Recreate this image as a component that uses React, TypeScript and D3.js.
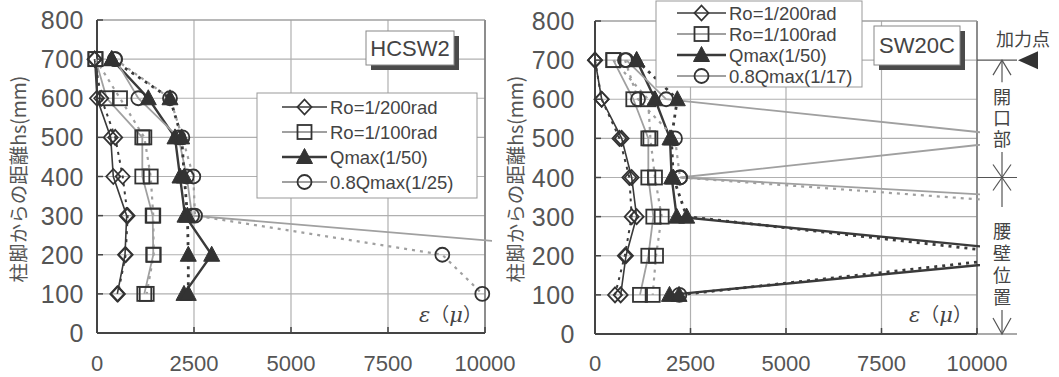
import React from "react";
import * as d3 from "d3";

// ---------- data ----------
const heights = [700, 600, 500, 400, 300, 200, 100];
const yTicks = [0, 100, 200, 300, 400, 500, 600, 700, 800];
const xTicks = [0, 2500, 5000, 7500, 10000];

// HCSW2 (left panel) strain values (μ) at each height
const hcRo200Solid = [-60, 0, 353, 420, 765, 722, 523];
const hcRo200Dash = [-60, 110, 470, 662, 790, 740, 540];
const hcRo100Solid = [-40, 250, 1168, 1168, 1435, 1451, 1219];
const hcRo100Dash = [-40, 593, 1220, 1384, 1450, 1460, 1281];
const hcQmaxSolid = [379, 1322, 2010, 2139, 2268, 2956, 2242];
const hcQmaxDash = [379, 1881, 2182, 2250, 2330, 2353, 2353];
const hcQ08Solid = [464, 1064, 2100, 2312, 2450, 14400, 16000];
const hcQ08Dash = [464, 1881, 2200, 2482, 2526, 8900, 9930];

// SW20C (right panel)
const swRo200Solid = [0, 175, 698, 960, 1090, 812, 672];
const swRo200Dash = [0, 175, 640, 900, 960, 780, 524];
const swRo100Solid = [480, 1003, 1396, 1396, 1527, 1396, 1178];
const swRo100Dash = [480, 1390, 1450, 1570, 1745, 1597, 1510];
const swQmaxSolid = [1090, 1570, 1963, 2007, 2138, 12585, 1950];
const swQmaxDash = [1090, 2155, 2000, 2050, 2400, 11500, 2200];
const swQ08Solid = [820, 1860, 11600, 2225, 20400, null, null];
const swQ08Dash = [785, 1126, 2094, 2225, 16200, null, 2208];

const leftNames = ["Ro=1/200rad", "Ro=1/100rad", "Qmax(1/50)", "0.8Qmax(1/25)"];
const rightNames = ["Ro=1/200rad", "Ro=1/100rad", "Qmax(1/50)", "0.8Qmax(1/17)"];

const yLabel = "柱脚からの距離hs(mm)";
const loadLabel = "加力点";
const openingLabel = "開口部";
const spandrelLabel = "腰壁位置";

// ---------- styles ----------
const DARK = "#3a3a3a";
const GRAY = "#a0a0a0";
const TXT = "#555";
const seriesStyles = [
  { marker: "diamond", color: DARK, width: 1.6 },
  { marker: "square", color: GRAY, width: 1.8 },
  { marker: "triangle", color: DARK, width: 2.4 },
  { marker: "circle", color: GRAY, width: 1.8 },
];
const DASH = "3 5";
const NUM_FONT = "'Liberation Sans', Arial, sans-serif";
const CJK_FONT = "'Noto Sans CJK JP', sans-serif";

function Marker({ kind, x, y }: { kind: string; x: number; y: number }) {
  const st = { stroke: "#333", strokeWidth: 1.8, fill: "none" };
  if (kind === "diamond")
    return <path d={`M${x},${y - 7.5}L${x + 7},${y}L${x},${y + 7.5}L${x - 7},${y}Z`} {...st} />;
  if (kind === "square") return <rect x={x - 7} y={y - 7} width={14} height={14} {...st} />;
  if (kind === "triangle")
    return <path d={`M${x},${y - 8.5}L${x + 8},${y + 6.5}L${x - 8},${y + 6.5}Z`} fill="#333" stroke="#333" strokeWidth={1} />;
  return <circle cx={x} cy={y} r={7} {...st} />;
}

type PanelProps = {
  id: string;
  x0: number; x1: number; yTop: number; yBot: number;
  clipExt: number;
  solids: (number | null)[][];
  dashes: (number | null)[][];
  names: string[];
  legend: { x: number; y: number; w: number; h: number; rows: number[]; lx0: number; lx1: number; tx: number };
  title: { text: string; x: number; y: number; w: number; h: number };
  yTickX: number;
  eps: { x: number; y: number };
};

function Panel(p: PanelProps) {
  const xs = d3.scaleLinear().domain([0, 10000]).range([p.x0, p.x1]);
  const ys = d3.scaleLinear().domain([0, 800]).range([p.yBot, p.yTop]);
  const line = d3
    .line<{ v: number | null; h: number }>()
    .defined((d) => d.v != null)
    .x((d) => xs(d.v as number))
    .y((d) => ys(d.h));
  const pts = (vals: (number | null)[]) => heights.map((h, i) => ({ v: vals[i], h }));
  const inRange = (v: number | null) => v != null && v <= 10050;

  return (
    <g>
      <defs>
        <clipPath id={p.id}>
          <rect x={p.x0 - 15} y={p.yTop - 5} width={p.x1 - p.x0 + 15 + p.clipExt} height={p.yBot - p.yTop + 5} />
        </clipPath>
      </defs>
      {/* grid */}
      {yTicks.map((t) => (
        <line key={"gy" + t} x1={p.x0} x2={p.x1} y1={ys(t)} y2={ys(t)} stroke="#b0b0b0" strokeWidth={1.2} />
      ))}
      {xTicks.map((t) => (
        <line key={"gx" + t} x1={xs(t)} x2={xs(t)} y1={p.yTop} y2={p.yBot} stroke="#b0b0b0" strokeWidth={1.2} />
      ))}
      {/* frame */}
      <line x1={p.x1} x2={p.x1} y1={p.yTop} y2={p.yBot} stroke="#777" strokeWidth={1.5} />
      <line x1={p.x0} x2={p.x1} y1={p.yTop} y2={p.yTop} stroke="#999" strokeWidth={1.2} />
      <line x1={p.x0} x2={p.x0} y1={p.yTop} y2={p.yBot} stroke="#444" strokeWidth={2} />
      <line x1={p.x0} x2={p.x1} y1={p.yBot} y2={p.yBot} stroke="#444" strokeWidth={2} />
      {yTicks.map((t) => (
        <line key={"ty" + t} x1={p.x0} x2={p.x0 + 6} y1={ys(t)} y2={ys(t)} stroke="#444" strokeWidth={1.5} />
      ))}
      {xTicks.map((t) => (
        <line key={"tx" + t} x1={xs(t)} x2={xs(t)} y1={p.yBot} y2={p.yBot - 6} stroke="#444" strokeWidth={1.5} />
      ))}
      {/* tick labels */}
      {yTicks.map((t) => (
        <text key={"ly" + t} x={p.yTickX} y={ys(t)} dy="0.36em" textAnchor="end" fontFamily={NUM_FONT} fontSize={25} letterSpacing={0.5} fill={TXT}>
          {t}
        </text>
      ))}
      {xTicks.map((t) => (
        <text key={"lx" + t} x={xs(t)} y={371} textAnchor="middle" fontFamily={NUM_FONT} fontSize={22} fill={TXT}>
          {t}
        </text>
      ))}
      {/* lines */}
      <g clipPath={`url(#${p.id})`}>
        {p.solids.map((vals, i) => (
          <path key={"s" + i} d={line(pts(vals)) || ""} fill="none" stroke={seriesStyles[i].color} strokeWidth={seriesStyles[i].width} />
        ))}
        {p.dashes.map((vals, i) => (
          <path key={"d" + i} d={line(pts(vals)) || ""} fill="none" stroke={seriesStyles[i].color} strokeWidth={seriesStyles[i].width + 0.4} strokeDasharray={DASH} />
        ))}
      </g>
      {/* markers */}
      {[...p.solids, ...p.dashes].map((vals, k) =>
        heights.map((h, i) =>
          inRange(vals[i]) ? (
            <Marker key={`m${k}-${i}`} kind={seriesStyles[k % 4].marker} x={xs(vals[i] as number)} y={ys(h)} />
          ) : null
        )
      )}
      {/* strain label */}
      <text x={p.eps.x} y={p.eps.y} fontFamily="'DejaVu Serif', serif" fontSize={21} fill="#444">
        <tspan fontStyle="italic">ε</tspan>
        <tspan fontFamily={CJK_FONT} fontSize={19}>（</tspan>
        <tspan fontStyle="italic">μ</tspan>
        <tspan fontFamily={CJK_FONT} fontSize={19}>）</tspan>
      </text>
      {/* title box */}
      <rect x={p.title.x + 5} y={p.title.y + 5} width={p.title.w} height={p.title.h} fill="#4a4a4a" />
      <rect x={p.title.x} y={p.title.y} width={p.title.w} height={p.title.h} fill="#fff" stroke="#888" strokeWidth={1} />
      <text x={p.title.x + p.title.w / 2} y={p.title.y + p.title.h / 2} dy="0.36em" textAnchor="middle" fontFamily={NUM_FONT} fontSize={22} fill="#444">
        {p.title.text}
      </text>
      {/* legend */}
      <rect x={p.legend.x} y={p.legend.y} width={p.legend.w} height={p.legend.h} fill="#fff" stroke="#999" strokeWidth={1} />
      {p.names.map((n, i) => {
        const y = p.legend.rows[i];
        const st = seriesStyles[i];
        const mx = (p.legend.lx0 + p.legend.lx1) / 2;
        return (
          <g key={"lg" + i}>
            <line x1={p.legend.lx0} x2={p.legend.lx1} y1={y} y2={y} stroke={st.color} strokeWidth={st.width} />
            <Marker kind={st.marker} x={mx} y={y} />
            <text x={p.legend.tx} y={y} dy="0.36em" fontFamily={NUM_FONT} fontSize={18.5} fill="#444">
              {n}
            </text>
          </g>
        );
      })}
    </g>
  );
}

function Annotation() {
  const ys = d3.scaleLinear().domain([0, 800]).range([334, 21]);
  const ax = 1002;
  const c = "#555";
  const y700 = ys(700);
  const y400 = ys(400);
  const y0 = ys(0);
  return (
    <g stroke={c} fill="none" strokeWidth={1.2}>
      <text x={1023} y={40} dy="0.36em" textAnchor="middle" fontFamily={CJK_FONT} fontSize={18} fill="#444" stroke="none">
        {loadLabel}
      </text>
      <line x1={977} x2={1017} y1={y700} y2={y700} />
      <path d={`M1018,${y700}L1038,${y700 - 9}L1038,${y700 + 9}Z`} fill="#333" stroke="none" />
      <line x1={ax} x2={ax} y1={y700} y2={y700 + 22} />
      <path d={`M${ax - 9},${y700 + 15}L${ax},${y700}L${ax + 9},${y700 + 15}`} />
      <text x={ax} y={88} style={{ writingMode: "vertical-rl" }} letterSpacing={3} fontFamily={CJK_FONT} fontSize={18} fill="#444" stroke="none">
        {openingLabel}
      </text>
      <line x1={ax} x2={ax} y1={152} y2={207} />
      <line x1={977} x2={1017} y1={y400} y2={y400} />
      <line x1={ax - 9} x2={ax + 9} y1={y400 - 13} y2={y400 + 13} />
      <line x1={ax + 9} x2={ax - 9} y1={y400 - 13} y2={y400 + 13} />
      <text x={ax} y={222} style={{ writingMode: "vertical-rl" }} letterSpacing={4} fontFamily={CJK_FONT} fontSize={18} fill="#444" stroke="none">
        {spandrelLabel}
      </text>
      <line x1={ax} x2={ax} y1={310} y2={y0} />
      <path d={`M${ax - 9},${y0 - 16}L${ax},${y0}L${ax + 9},${y0 - 16}`} />
      <line x1={977} x2={1017} y1={y0} y2={y0} />
    </g>
  );
}

export default function App() {
  return (
    <div style={{ position: "fixed", left: 0, top: 0 }}>
      <svg width={1059} height={377} style={{ display: "block", background: "#fff" }}>
        <text transform="translate(19,179) rotate(-90)" dy="0.36em" textAnchor="middle" fontFamily={CJK_FONT} fontSize={19.5} fill={TXT}>
          {yLabel}
        </text>
        <text transform="translate(516,179) rotate(-90)" dy="0.36em" textAnchor="middle" fontFamily={CJK_FONT} fontSize={19.5} fill={TXT}>
          {yLabel}
        </text>
        <Panel
          id="clipL"
          x0={97}
          x1={485}
          yTop={20}
          yBot={333}
          clipExt={7}
          solids={[hcRo200Solid, hcRo100Solid, hcQmaxSolid, hcQ08Solid]}
          dashes={[hcRo200Dash, hcRo100Dash, hcQmaxDash, hcQ08Dash]}
          names={leftNames}
          legend={{ x: 257, y: 93, w: 220, h: 105, rows: [107, 132, 157, 182], lx0: 282, lx1: 327, tx: 330 }}
          title={{ text: "HCSW2", x: 366, y: 31, w: 88, h: 34 }}
          yTickX={84}
          eps={{ x: 419, y: 322 }}
        />
        <Panel
          id="clipR"
          x0={595}
          x1={977}
          yTop={21}
          yBot={334}
          clipExt={3}
          solids={[swRo200Solid, swRo100Solid, swQmaxSolid, swQ08Solid]}
          dashes={[swRo200Dash, swRo100Dash, swQmaxDash, swQ08Dash]}
          names={rightNames}
          legend={{ x: 656, y: 1, w: 206, h: 86, rows: [13, 34, 55, 76], lx0: 677, lx1: 726, tx: 729 }}
          title={{ text: "SW20C", x: 874, y: 26, w: 86, h: 39 }}
          yTickX={575}
          eps={{ x: 909, y: 322 }}
        />
        <Annotation />
      </svg>
    </div>
  );
}
